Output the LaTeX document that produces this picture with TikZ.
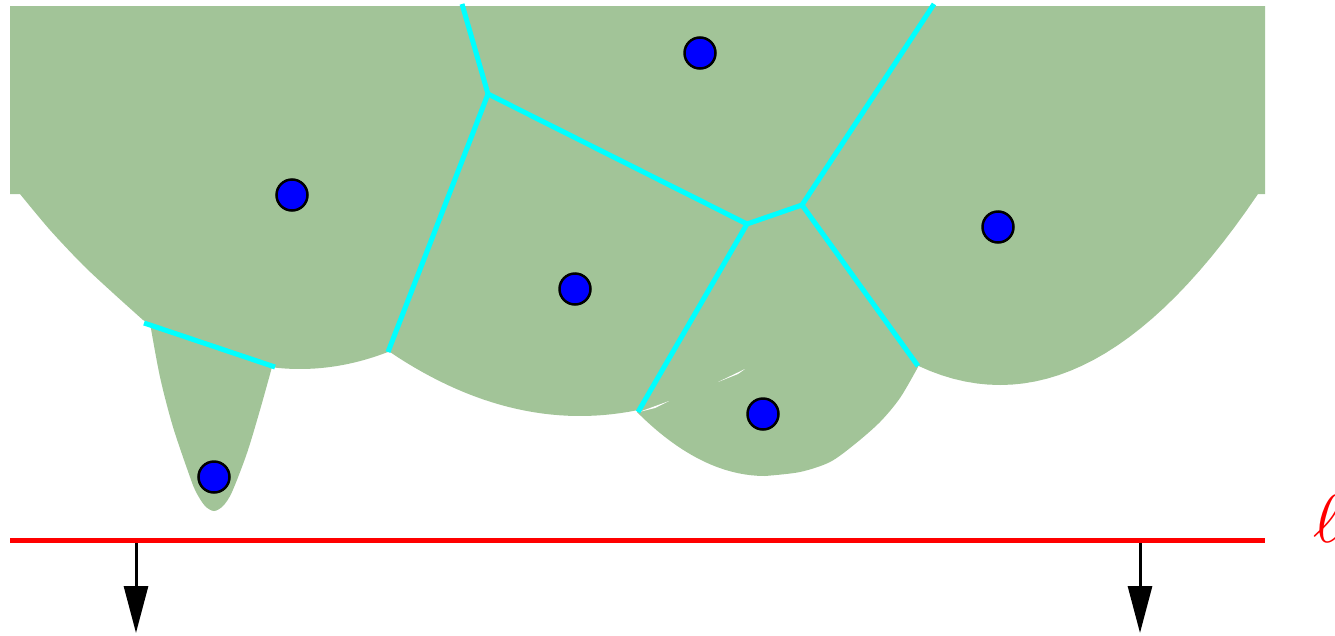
\documentclass[tikz,border=0pt]{standalone}
\usetikzlibrary{arrows.meta}
\definecolor{beachgreen}{RGB}{162,196,152}
\definecolor{edgecyan}{RGB}{0,255,255}
\definecolor{siteblue}{RGB}{0,0,255}
\definecolor{linered}{RGB}{255,0,0}
\begin{document}
\begin{tikzpicture}[x=1pt,y=-1pt,
  region/.style={fill=beachgreen},
  edge/.style={draw=edgecyan,line width=5pt},
  site/.style={circle,fill=siteblue,draw=black,line width=2.5pt,minimum size=31pt,inner sep=0pt},
  sweep/.style={draw=linered,line width=5pt},
  moveto/.style={draw=black,line width=3pt,-{Triangle[length=47pt,width=24pt]}}]
\useasboundingbox (0,0) rectangle (1335,635);
% beach region
\fill[region] (10,6) -- (1265,6) -- (1265,194) -- (1258,194)
  -- plot[domain=1258:918,samples=30] (\x,{385-28.7*((\x-1000)/100)^2})
  -- plot[smooth] coordinates {(918,367) (900,398) (880,422) (855,444) (830,462) (800,472) (765,476)}
  -- plot[domain=765:637,samples=20] (\x,{476-39*((\x-765)/100)^2})
  -- plot[domain=637:388,samples=30] (\x,{416-17.7*((\x-580)/100)^2})
  -- plot[domain=388:272,samples=20] (\x,{369-22*((\x-300)/100)^2})
  -- plot[smooth] coordinates {(272,367) (260,410) (247,453) (232,492) (223,506) (214,511) (205,506) (196,492) (190,477) (173,427) (160,377) (150,323)}
  -- (145,321)
  -- plot[smooth] coordinates {(143,320) (113,293) (83,265) (50,230) (20,194)}
  -- (10,194) -- cycle;
% thin white gaps
\fill[white] (639,412) -- (669,401) -- (655,408) -- cycle;
\fill[white] (718,382) -- (745,369) -- (738,374) -- cycle;
% Voronoi vertices and edge ends
\coordinate (v1) at (488,94);
\coordinate (v2) at (747,224);
\coordinate (v3) at (802,205);
\coordinate (t1) at (462,4);
\coordinate (t2) at (934,4);
\coordinate (b1) at (388,352);
\coordinate (b2) at (638,412);
\coordinate (b3) at (918,366);
\coordinate (f1) at (144,323);
\coordinate (f2) at (275,367);
\draw[edge] (t1) -- (v1);
\draw[edge] (v1) -- (b1);
\draw[edge] (v1) -- (v2) -- (v3);
\draw[edge] (v3) -- (t2);
\draw[edge] (v3) -- (b3);
\draw[edge] (v2) -- (b2);
\draw[edge] (f1) -- (f2);
% sites
\node[site] (sA) at (292,195) {};
\node[site] (sB) at (700,53) {};
\node[site] (sC) at (575,289) {};
\node[site] (sD) at (998,227) {};
\node[site] (sE) at (763,414) {};
\node[site] (sF) at (214,477) {};
% arrows and sweep line
\coordinate (a1) at (136,540);
\coordinate (a1e) at (136,633);
\coordinate (a2) at (1140,540);
\coordinate (a2e) at (1140,633);
\draw[moveto] (a1) -- (a1e);
\draw[moveto] (a2) -- (a2e);
\coordinate (l1) at (10,540);
\coordinate (l2) at (1265,540);
\draw[sweep] (l1) -- (l2);
\node[anchor=base west,inner sep=0pt,text=linered,scale=6.8] (ell) at (1312,542) {$\ell$};
\end{tikzpicture}
\end{document}
